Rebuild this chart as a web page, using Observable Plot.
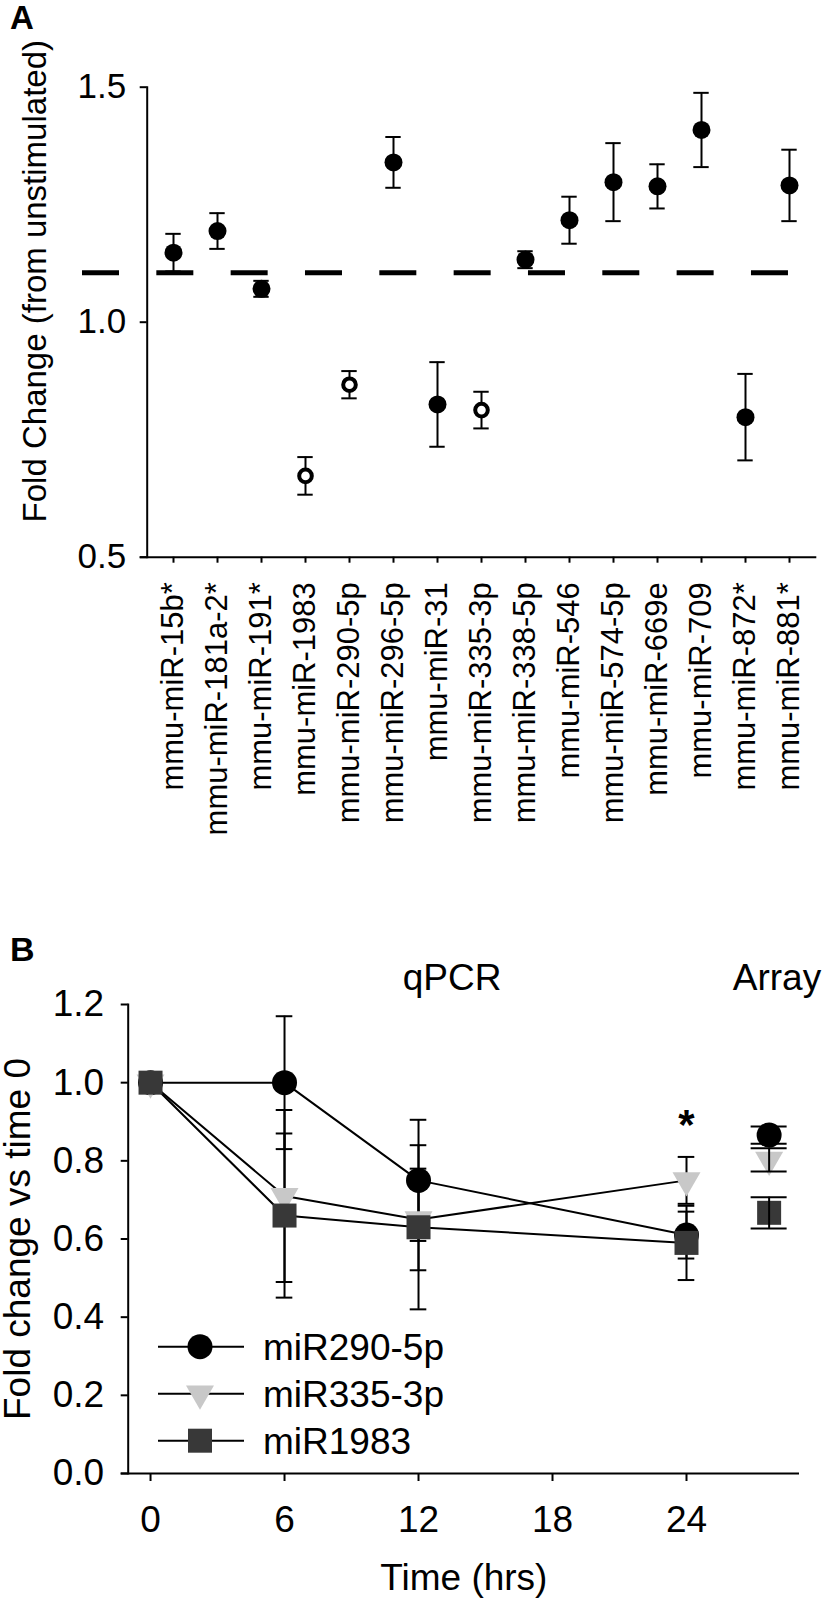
<!DOCTYPE html>
<html>
<head>
<meta charset="utf-8">
<script src="https://cdn.jsdelivr.net/npm/d3@7"></script>
<script src="https://cdn.jsdelivr.net/npm/@observablehq/plot@0.6"></script>
<style>
  html, body { margin: 0; padding: 0; background: #fff; overflow: hidden; }
  #wrap { position: relative; width: 825px; height: 1598px; font-family: "Liberation Sans", Arial, sans-serif; color: #000; }
  .panel-letter { position: absolute; left: 10px; font-weight: bold; line-height: 1; }
  #panelA, #panelB { position: absolute; left: 0; }
  #panelA { top: 0; }
  #panelB { top: 840px; }
</style>
</head>
<body>
<div id="wrap">
  <div id="panelA"></div>
  <div id="panelB"></div>
  <div class="panel-letter" style="top:1px;font-size:33px">A</div>
  <div class="panel-letter" style="top:932px;font-size:34px">B</div>
</div>
<script>
// ---------------- Panel A data ----------------
const mirnas = ["mmu-miR-15b*", "mmu-miR-181a-2*", "mmu-miR-191*", "mmu-miR-1983", "mmu-miR-290-5p",
  "mmu-miR-296-5p", "mmu-miR-31", "mmu-miR-335-3p", "mmu-miR-338-5p", "mmu-miR-546",
  "mmu-miR-574-5p", "mmu-miR-669e", "mmu-miR-709", "mmu-miR-872*", "mmu-miR-881*"];
const foldChange = [1.148, 1.194, 1.071, 0.673, 0.867, 1.340, 0.825, 0.813, 1.133, 1.217, 1.298, 1.289, 1.409, 0.798, 1.291];
const foldChangeSem = [0.040, 0.038, 0.017, 0.040, 0.029, 0.054, 0.090, 0.039, 0.018, 0.050, 0.083, 0.047, 0.079, 0.092, 0.076];
const validatedByQpcr = ["mmu-miR-1983", "mmu-miR-290-5p", "mmu-miR-335-3p"];
const thresholdA = 1.105;
const yTicksA = [0.5, 1.0, 1.5];
const yTitleA = "Fold Change (from unstimulated)";

// ---------------- Panel B data ----------------
const seriesNames = ["miR290-5p", "miR335-3p", "miR1983"];
const timePoints = [0, 6, 12, 24];
const mir290Mean = [1.00, 1.00, 0.75, 0.61];
const mir290Sem  = [0, 0.17, 0.155, 0.06];
const mir335Mean = [1.00, 0.71, 0.65, 0.75];
const mir335Sem  = [0, 0.22, 0.13, 0.06];
const mir1983Mean = [1.00, 0.66, 0.63, 0.59];
const mir1983Sem  = [0, 0.21, 0.21, 0.095];
const arrayTime = 27.7;
const arrayMean = [0.866, 0.8025, 0.667];
const arraySem  = [0.022, 0.030, 0.040];
const xTicksB = [0, 6, 12, 18, 24];
const yTicksB = [0, 0.2, 0.4, 0.6, 0.8, 1.0, 1.2];
const significance = [{time: 24, value: 0.89, label: "*"}];
const groupLabels = [{time: 13.5, value: 1.268, label: "qPCR"}, {time: 28.05, value: 1.268, label: "Array"}];
const xTitleB = "Time (hrs)";
const yTitleB = "Fold change vs time 0";

const FONT = '"Liberation Sans", Arial, sans-serif';

// ---------------- Panel A ----------------
const dataA = mirnas.map((name, i) => ({
  name, value: foldChange[i], sem: foldChangeSem[i], open: validatedByQpcr.includes(name)
}));
const HA = 840;
const plotA = Plot.plot({
  width: 825, height: HA,
  marginLeft: 146.7, marginRight: 8.7, marginTop: 86.7, marginBottom: HA - 556.7,
  style: {fontFamily: FONT, background: "transparent", color: "#000", overflow: "visible"},
  x: {type: "band", domain: mirnas, padding: 0},
  y: {domain: [0.5, 1.5]},
  marks: [
    Plot.ruleY([thresholdA], {stroke: "#000", strokeWidth: 5, strokeDasharray: "37,37.33", insetLeft: -64.7, insetRight: 28}),
    Plot.frame({anchor: "left", stroke: "#000", strokeWidth: 2}),
    Plot.ruleY([0.5], {stroke: "#000", strokeWidth: 2, insetLeft: -7}),
    Plot.axisY({ticks: yTicksA, tickFormat: ".1f", tickSize: 7, tickPadding: 14, fontSize: 35, strokeWidth: 2, label: null}),
    Plot.axisX({tickSize: 6, tickPadding: 19, tickRotate: -90, fontSize: 31, strokeWidth: 2, label: null}),
    Plot.ruleX(dataA, {x: "name", y1: d => d.value - d.sem, y2: d => d.value + d.sem, stroke: "#000", strokeWidth: 2}),
    Plot.tickY(dataA, {x: "name", y: d => d.value + d.sem, stroke: "#000", strokeWidth: 2, insetLeft: 14.3, insetRight: 14.3}),
    Plot.tickY(dataA, {x: "name", y: d => d.value - d.sem, stroke: "#000", strokeWidth: 2, insetLeft: 14.3, insetRight: 14.3}),
    Plot.dot(dataA.filter(d => !d.open), {x: "name", y: "value", r: 9, fill: "#000"}),
    Plot.dot(dataA.filter(d => d.open), {x: "name", y: "value", r: 6.3, fill: "#fff", stroke: "#000", strokeWidth: 4}),
    Plot.text([yTitleA], {frameAnchor: "left", dx: 35 - 146.7, dy: -41, rotate: -90, fontSize: 33, textAnchor: "middle", lineAnchor: "middle", fill: "#000"})
  ]
});
document.getElementById("panelA").appendChild(plotA);

// ---------------- Panel B ----------------
const meansB = [mir290Mean, mir335Mean, mir1983Mean];
const semsB = [mir290Sem, mir335Sem, mir1983Sem];
const qpcr = seriesNames.flatMap((s, k) => timePoints.map((t, i) => ({series: s, time: t, value: meansB[k][i], sem: semsB[k][i]})));
const arr = seriesNames.map((s, k) => ({series: s, time: arrayTime, value: arrayMean[k], sem: arraySem[k]}));

const triangleDown = {
  draw(ctx, size) {
    const a = Math.sqrt(size * 4 / Math.sqrt(3));
    const h = a * Math.sqrt(3) / 2;
    ctx.moveTo(0, 2 * h / 3);
    ctx.lineTo(a / 2, -h / 3);
    ctx.lineTo(-a / 2, -h / 3);
    ctx.closePath();
  }
};
const markerStyle = {
  "miR290-5p": {symbol: d3.symbolCircle, r: 12.5, fill: "#000"},
  "miR335-3p": {symbol: triangleDown, r: 10.4, fill: "#c8c8c8"},
  "miR1983":   {symbol: d3.symbolSquare, r: 13.54, fill: "#383838"}
};

const HB = 1598 - HA;
const topB = 1004 - HA, bottomB = 1473 - HA;
const errMarks = (data, halfCap) => [
  Plot.ruleX(data.filter(d => d.sem > 0), {x: "time", y1: d => d.value - d.sem, y2: d => d.value + d.sem, stroke: "#000", strokeWidth: 2}),
  Plot.ruleY(data.filter(d => d.sem > 0), {y: d => d.value + d.sem, x1: "time", x2: "time", insetLeft: -halfCap, insetRight: -halfCap, stroke: "#000", strokeWidth: 2}),
  Plot.ruleY(data.filter(d => d.sem > 0), {y: d => d.value - d.sem, x1: "time", x2: "time", insetLeft: -halfCap, insetRight: -halfCap, stroke: "#000", strokeWidth: 2})
];
const dotMarks = (data) => seriesNames.map(s => Plot.dot(data.filter(d => d.series === s), {
  x: "time", y: "value", symbol: markerStyle[s].symbol, r: markerStyle[s].r, fill: markerStyle[s].fill, stroke: "none"
}));

function legendMark(index, scales, values, dims) {
  const g = d3.create("svg:g");
  const x0 = dims.marginLeft;
  const yb = dims.height - dims.marginBottom;
  seriesNames.forEach((s, i) => {
    const cy = yb - 32.3 - (seriesNames.length - 1 - i) * 47;
    g.append("line").attr("x1", x0 + 30.3).attr("x2", x0 + 116.3).attr("y1", cy).attr("y2", cy)
      .attr("stroke", "#000").attr("stroke-width", 2);
    const st = markerStyle[s];
    g.append("path").attr("transform", `translate(${x0 + 72.3},${cy})`)
      .attr("d", d3.symbol(st.symbol, Math.PI * st.r * st.r)()).attr("fill", st.fill);
    g.append("text").attr("x", x0 + 135.3).attr("y", cy).attr("dy", "0.35em")
      .attr("text-anchor", "start").attr("font-size", 37).attr("fill", "#000").text(s);
  });
  return g.node();
}

const plotB = Plot.plot({
  width: 825, height: HB,
  marginLeft: 127.7, marginRight: 26, marginTop: topB, marginBottom: HB - bottomB,
  style: {fontFamily: FONT, background: "transparent", color: "#000", overflow: "visible"},
  x: {domain: [-1, 29.06]},
  y: {domain: [0, 1.2]},
  marks: [
    Plot.frame({anchor: "left", stroke: "#000", strokeWidth: 2}),
    Plot.ruleY([0], {stroke: "#000", strokeWidth: 2, insetLeft: -7}),
    Plot.axisY({ticks: yTicksB, tickFormat: ".1f", tickSize: 7, tickPadding: 17, fontSize: 37, strokeWidth: 2, label: null}),
    Plot.axisX({ticks: xTicksB, tickSize: 8, tickPadding: 24, fontSize: 37, strokeWidth: 2, label: null}),
    Plot.line(qpcr, {x: "time", y: "value", z: "series", stroke: "#000", strokeWidth: 2}),
    ...errMarks(qpcr, 8.3),
    ...dotMarks(qpcr),
    ...dotMarks(arr),
    ...errMarks(arr, 18),
    Plot.text(significance, {x: "time", y: "value", text: "label", fontSize: 42, fontWeight: "bold", lineAnchor: "middle", fill: "#000"}),
    Plot.text(groupLabels, {x: "time", y: "value", text: "label", fontSize: 37, lineAnchor: "middle", fill: "#000"}),
    Plot.text([xTitleB], {frameAnchor: "bottom", dy: 90, fontSize: 37, lineAnchor: "top", fill: "#000"}),
    Plot.text([yTitleB], {frameAnchor: "left", dx: 18 - 127.7, rotate: -90, fontSize: 37, textAnchor: "middle", lineAnchor: "middle", fill: "#000"}),
    legendMark
  ]
});
document.getElementById("panelB").appendChild(plotB);
</script>
</body>
</html>
